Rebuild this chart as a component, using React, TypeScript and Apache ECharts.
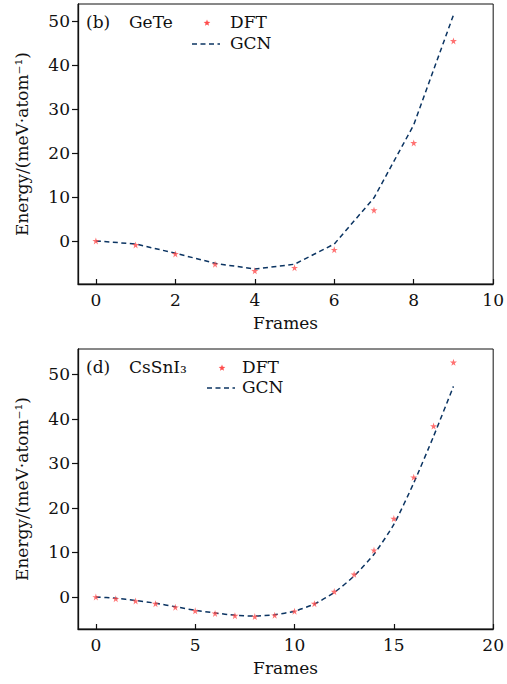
import React, { useEffect, useRef } from "react";
import * as echarts from "echarts";

// ---- Data ----
const framesGeTe = [0, 1, 2, 3, 4, 5, 6, 7, 8, 9];
const dftGeTe = [0, -0.9, -2.95, -5.3, -6.8, -6.1, -2.0, 7.0, 22.3, 45.5];
const gcnGeTe = [0, -0.7, -2.8, -5.1, -6.4, -5.3, -0.7, 9.8, 26.4, 51.4];

const framesCsSnI3 = [0, 1, 2, 3, 4, 5, 6, 7, 8, 9, 10, 11, 12, 13, 14, 15, 16, 17, 18];
const dftCsSnI3 = [0, -0.4, -0.9, -1.5, -2.3, -3.1, -3.7, -4.2, -4.4, -4.1, -3.2, -1.5, 1.2, 5.1, 10.5, 17.6, 26.9, 38.4, 52.7];
const gcnCsSnI3 = [0, -0.3, -0.8, -1.4, -2.2, -3.0, -3.6, -4.1, -4.3, -4.0, -3.2, -1.6, 1.0, 4.7, 9.6, 16.3, 25.6, 36.1, 47.3];

const yTicks = [0, 10, 20, 30, 40, 50];
const xTicksGeTe = [0, 2, 4, 6, 8, 10];
const xTicksCsSnI3 = [0, 5, 10, 15, 20];

const seriesNames = ["DFT", "GCN"];
const panelTags = ["(b)", "(d)"];
const panelNames = ["GeTe", "CsSnI₃"];
const xName = "Frames";
const yName = "Energy/(meV·atom⁻¹)";

const FONT = "DejaVu Serif";
const RED = "#ff4d4d";
const NAVY = "#0b3462";
const STAR = "path://M50,0 L61,35 L98,35 L68,57 L79,91 L50,70 L21,91 L32,57 L2,35 L39,35 Z";

function starPoints(cx: number, cy: number, r: number): number[][] {
  const pts: number[][] = [];
  for (let i = 0; i < 10; i++) {
    const rr = i % 2 === 0 ? r : r * 0.42;
    const a = -Math.PI / 2 + (i * Math.PI) / 5;
    pts.push([cx + rr * Math.cos(a), cy + rr * Math.sin(a)]);
  }
  return pts;
}

export default function App() {
  const ref = useRef<HTMLDivElement>(null);
  useEffect(() => {
    if (!ref.current) return;
    const chart = echarts.init(ref.current, undefined, { renderer: "svg" });

    const grids = [
      { left: 78, top: 4, width: 416, height: 280 },
      { left: 78, top: 349, width: 416, height: 280 },
    ];
    const xr = [
      { min: -0.45, max: 10, ticks: xTicksGeTe },
      { min: -0.9, max: 20, ticks: xTicksCsSnI3 },
    ];
    const yr = [
      { min: -9.8, max: 53.9 },
      { min: -7.2, max: 55.7 },
    ];

    const labelStyle = { fontFamily: FONT, fontSize: 17, color: "#111" };

    const option: any = {
      animation: false,
      backgroundColor: "#fff",
      grid: grids.map((g) => ({ ...g, show: true, borderColor: "#111", borderWidth: 1, backgroundColor: "transparent" })),
      xAxis: xr.map((r, i) => ({
        type: "value",
        gridIndex: i,
        min: r.min,
        max: r.max,
        name: xName,
        nameLocation: "middle",
        nameGap: 30,
        nameTextStyle: labelStyle,
        axisLine: { show: true, onZero: false, lineStyle: { color: "#111", width: 1.3 } },
        axisTick: { show: true, inside: true, length: 5, customValues: r.ticks, lineStyle: { color: "#111", width: 1.2 } },
        axisLabel: { ...labelStyle, margin: 7, customValues: r.ticks, showMinLabel: true, showMaxLabel: true },
        splitLine: { show: false },
      })),
      yAxis: yr.map((r, i) => ({
        type: "value",
        gridIndex: i,
        min: r.min,
        max: r.max,
        name: yName,
        nameLocation: "middle",
        nameGap: 48,
        nameRotate: 90,
        nameTextStyle: labelStyle,
        axisLine: { show: true, onZero: false, lineStyle: { color: "#111", width: 1.3 } },
        axisTick: { show: true, inside: false, length: 6, customValues: yTicks, lineStyle: { color: "#111", width: 1.2 } },
        axisLabel: { ...labelStyle, margin: 8, customValues: yTicks },
        splitLine: { show: false },
      })),
      series: [
        {
          name: seriesNames[1],
          type: "line",
          xAxisIndex: 0,
          yAxisIndex: 0,
          data: framesGeTe.map((f, i) => [f, gcnGeTe[i]]),
          showSymbol: false,
          symbol: "none",
          lineStyle: { color: NAVY, width: 1.5, type: [5, 3.5] },
          z: 2,
        },
        {
          name: seriesNames[0],
          type: "scatter",
          xAxisIndex: 0,
          yAxisIndex: 0,
          data: framesGeTe.map((f, i) => [f, dftGeTe[i]]),
          symbol: STAR,
          symbolSize: 7,
          itemStyle: { color: RED },
          z: 3,
        },
        {
          name: seriesNames[1],
          type: "line",
          xAxisIndex: 1,
          yAxisIndex: 1,
          data: framesCsSnI3.map((f, i) => [f, gcnCsSnI3[i]]),
          showSymbol: false,
          symbol: "none",
          smooth: 0.2,
          lineStyle: { color: NAVY, width: 1.5, type: [5, 3.5] },
          z: 2,
        },
        {
          name: seriesNames[0],
          type: "scatter",
          xAxisIndex: 1,
          yAxisIndex: 1,
          data: framesCsSnI3.map((f, i) => [f, dftCsSnI3[i]]),
          symbol: STAR,
          symbolSize: 7,
          itemStyle: { color: RED },
          z: 3,
        },
      ],
      graphic: [0, 1].flatMap((i) => {
        const top = grids[i].top;
        const legendX = i === 0 ? 192 : 207;
        const textX = i === 0 ? 230 : 242;
        const r1 = top + 19;
        const r2 = top + (i === 0 ? 40 : 39);
        return [
          {
            type: "text",
            left: 86,
            top: r1 - 10,
            style: { text: panelTags[i], font: `17px "${FONT}"`, fill: "#111" },
          },
          {
            type: "text",
            left: 129,
            top: r1 - 10,
            style: { text: panelNames[i], font: `17px "${FONT}"`, fill: "#111" },
          },
          {
            type: "polygon",
            shape: { points: starPoints(legendX + 15, r1, 3.5) },
            style: { fill: RED },
          },
          {
            type: "text",
            left: textX,
            top: r1 - 10,
            style: { text: seriesNames[0], font: `17px "${FONT}"`, fill: "#111" },
          },
          {
            type: "line",
            shape: { x1: legendX, y1: r2, x2: legendX + 28, y2: r2 },
            style: { stroke: NAVY, lineWidth: 1.5, lineDash: [5, 3.5] },
          },
          {
            type: "text",
            left: textX,
            top: r2 - 10,
            style: { text: seriesNames[1], font: `17px "${FONT}"`, fill: "#111" },
          },
        ];
      }),
    };
    chart.setOption(option);
    return () => chart.dispose();
  }, []);
  return <div ref={ref} style={{ position: "fixed", left: 0, top: 0, width: 507, height: 684 }} />;
}
